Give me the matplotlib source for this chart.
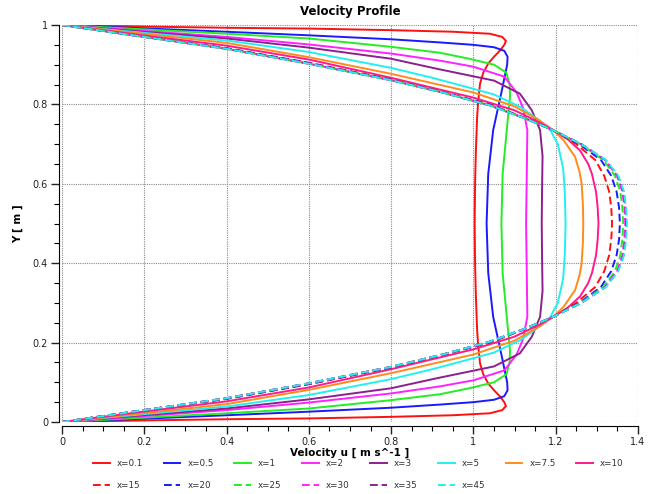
import numpy as np
import matplotlib
matplotlib.use("Agg")
import matplotlib.pyplot as plt
from matplotlib.ticker import MultipleLocator

# ---- data: lower half of each profile (y from wall to centreline) ----
stations = ["0.1", "0.5", "1", "2", "3", "5", "7.5", "10", "15", "20", "25", "30", "35", "45"]

y_x0p1 = [0, 0.004, 0.007, 0.009, 0.013, 0.017, 0.022, 0.03, 0.04, 0.05, 0.064, 0.08, 0.097, 0.12, 0.148, 0.2, 0.232, 0.316, 0.4, 0.5]
u_x0p1 = [0, 0.2, 0.4, 0.6, 0.8, 0.95, 1.04, 1.07, 1.079, 1.075, 1.065, 1.05, 1.036, 1.024, 1.016, 1.011, 1.009, 1.006, 1.004, 1.003]

y_x0p5 = [0, 0.008, 0.017, 0.026, 0.036, 0.044, 0.05, 0.056, 0.065, 0.08, 0.1, 0.13, 0.165, 0.265, 0.375, 0.5]
u_x0p5 = [0, 0.19, 0.4, 0.6, 0.8, 0.92, 1.0, 1.05, 1.075, 1.083, 1.082, 1.076, 1.069, 1.048, 1.036, 1.032]

y_x1 = [0, 0.011, 0.022, 0.034, 0.055, 0.07, 0.085, 0.1, 0.12, 0.15, 0.18, 0.265, 0.375, 0.5]
u_x1 = [0, 0.2, 0.4, 0.6, 0.8, 0.919, 0.99, 1.05, 1.08, 1.088, 1.089, 1.081, 1.071, 1.068]

y_x2 = [0, 0.015, 0.03, 0.049, 0.072, 0.09, 0.105, 0.13, 0.17, 0.21, 0.265, 0.35, 0.5]
u_x2 = [0, 0.2, 0.4, 0.6, 0.8, 0.92, 1.0, 1.075, 1.105, 1.121, 1.131, 1.13, 1.128]

y_x3 = [0, 0.015, 0.034, 0.057, 0.085, 0.11, 0.125, 0.14, 0.173, 0.215, 0.265, 0.33, 0.4, 0.5]
u_x3 = [0, 0.17, 0.4, 0.6, 0.8, 0.91, 0.98, 1.05, 1.113, 1.142, 1.162, 1.168, 1.167, 1.166]

y_x5 = [0, 0.015, 0.039, 0.068, 0.108, 0.133, 0.155, 0.175, 0.207, 0.24, 0.265, 0.3, 0.36, 0.42, 0.5]
u_x5 = [0, 0.15, 0.4, 0.6, 0.8, 0.9, 0.98, 1.05, 1.115, 1.16, 1.187, 1.205, 1.218, 1.222, 1.224]

y_x7p5 = [0, 0.02, 0.045, 0.081, 0.123, 0.17, 0.205, 0.24, 0.265, 0.29, 0.332, 0.37, 0.4, 0.45, 0.5]
u_x7p5 = [0, 0.18, 0.4, 0.6, 0.8, 1.0, 1.1, 1.16, 1.194, 1.219, 1.247, 1.258, 1.263, 1.266, 1.267]

y_x10 = [0, 0.025, 0.052, 0.087, 0.133, 0.183, 0.215, 0.245, 0.265, 0.286, 0.316, 0.35, 0.375, 0.42, 0.46, 0.5]
u_x10 = [0, 0.19, 0.4, 0.6, 0.8, 1.0, 1.1, 1.16, 1.194, 1.227, 1.259, 1.279, 1.288, 1.298, 1.302, 1.304]

y_x15 = [0, 0.015, 0.03, 0.058, 0.095, 0.137, 0.17, 0.2, 0.235, 0.265, 0.3, 0.34, 0.38, 0.42, 0.46, 0.5]
u_x15 = [0, 0.1, 0.2, 0.4, 0.6, 0.8, 0.93, 1.04, 1.128, 1.194, 1.25, 1.296, 1.318, 1.33, 1.335, 1.337]

y_x20 = [0, 0.015, 0.03, 0.059, 0.096, 0.138, 0.17, 0.201, 0.235, 0.265, 0.3, 0.34, 0.38, 0.42, 0.46, 0.5]
u_x20 = [0, 0.1, 0.2, 0.4, 0.6, 0.8, 0.927, 1.04, 1.126, 1.194, 1.257, 1.31, 1.335, 1.348, 1.354, 1.356]

y_x25 = [0, 0.015, 0.03, 0.06, 0.0975, 0.139, 0.17, 0.2025, 0.235, 0.265, 0.3, 0.34, 0.38, 0.42, 0.46, 0.5]
u_x25 = [0, 0.1, 0.2, 0.4, 0.6, 0.8, 0.925, 1.04, 1.125, 1.194, 1.26, 1.316, 1.344, 1.357, 1.362, 1.364]

y_x30 = [0, 0.015, 0.03, 0.06, 0.0975, 0.139, 0.17, 0.2025, 0.235, 0.265, 0.3, 0.34, 0.38, 0.42, 0.46, 0.5]
u_x30 = [0, 0.1, 0.2, 0.4, 0.6, 0.8, 0.925, 1.04, 1.125, 1.194, 1.262, 1.32, 1.349, 1.362, 1.367, 1.369]

y_x35 = [0, 0.015, 0.03, 0.06, 0.0975, 0.139, 0.17, 0.2025, 0.235, 0.265, 0.3, 0.34, 0.38, 0.42, 0.46, 0.5]
u_x35 = [0, 0.1, 0.2, 0.4, 0.6, 0.8, 0.925, 1.04, 1.125, 1.194, 1.262, 1.321, 1.351, 1.365, 1.37, 1.371]

y_x45 = [0, 0.015, 0.03, 0.06, 0.0975, 0.139, 0.17, 0.2025, 0.235, 0.265, 0.3, 0.34, 0.38, 0.42, 0.46, 0.5]
u_x45 = [0, 0.1, 0.2, 0.4, 0.6, 0.8, 0.925, 1.04, 1.125, 1.194, 1.262, 1.322, 1.352, 1.366, 1.371, 1.373]

profiles = [
    (y_x0p1, u_x0p1), (y_x0p5, u_x0p5), (y_x1, u_x1), (y_x2, u_x2), (y_x3, u_x3),
    (y_x5, u_x5), (y_x7p5, u_x7p5), (y_x10, u_x10), (y_x15, u_x15), (y_x20, u_x20),
    (y_x25, u_x25), (y_x30, u_x30), (y_x35, u_x35), (y_x45, u_x45),
]

colors = ["#ff1010", "#1a1aff", "#22ee22", "#ff22ff", "#8e1f8e", "#22f0f0", "#ff8c1a", "#ff1a8c",
          "#ff1010", "#1a1aff", "#22ee22", "#ff22ff", "#8e1f8e", "#22f0f0"]
styles = ["-"] * 8 + ["--"] * 6

x_ticks = [0, 0.2, 0.4, 0.6, 0.8, 1, 1.2, 1.4]
y_ticks = [0, 0.2, 0.4, 0.6, 0.8, 1]

# ---- figure ----
fig = plt.figure(figsize=(6.59, 4.94), dpi=100)
ax = fig.add_axes([62 / 659, 1 - 422 / 494, (638 - 62) / 659, (422 - 25) / 494])

handles = {}
for name, (yy, uu), c, ls in zip(stations, profiles, colors, styles):
    yy = np.asarray(yy, float)
    uu = np.asarray(uu, float)
    y_full = np.concatenate([yy, 1 - yy[::-1][1:]])
    u_full = np.concatenate([uu, uu[::-1][1:]])
    kw = dict(dashes=(4, 2)) if ls == "--" else {}
    (h,) = ax.plot(u_full, y_full, color=c, lw=1.4, ls=ls, label="x=" + name, **kw)
    handles[name] = h

ax.set_xlim(0, 1.4)
ax.set_ylim(0, 1)
ax.set_xticks(x_ticks)
ax.set_xticklabels([f"{t:g}" for t in x_ticks])
ax.set_yticks(y_ticks)
ax.set_yticklabels([f"{t:g}" for t in y_ticks])
ax.xaxis.set_minor_locator(MultipleLocator(0.05))
ax.yaxis.set_minor_locator(MultipleLocator(0.05))
ax.grid(True, which="major", color="#8a8a8a", ls=(0, (1, 1)), lw=0.8)
ax.set_axisbelow(True)
for s in ["top", "right"]:
    ax.spines[s].set_visible(False)
ax.spines["bottom"].set_position(("outward", 3))
ax.spines["left"].set_position(("outward", 2))
ax.tick_params(which="major", length=6, width=1, labelsize=7, colors="#222222", pad=2)
ax.tick_params(which="minor", length=3.5, width=0.8)

fig.text(350 / 659, 1 - 11 / 494, "Velocity Profile", fontsize=8.5, fontweight="bold",
         ha="center", va="center")
ax.set_xlabel("Velocity u [ m s^-1 ]", fontsize=7.5, fontweight="bold", labelpad=0)
ax.set_ylabel("Y [ m ]", fontsize=7.5, fontweight="bold", labelpad=7)

order = ["0.1", "15", "0.5", "20", "1", "25", "2", "30", "3", "35", "5", "45", "7.5", "10"]
leg = fig.legend([handles[k] for k in order], ["x=" + k for k in order],
                 ncol=8, loc="lower center", bbox_to_anchor=(0.544, -0.008),
                 frameon=False, fontsize=6.3, handlelength=1.9, handletextpad=0.8,
                 columnspacing=2.35, labelspacing=1.5)
for t in leg.get_texts():
    t.set_color("#333333")

fig.savefig("out.png", dpi=100)
